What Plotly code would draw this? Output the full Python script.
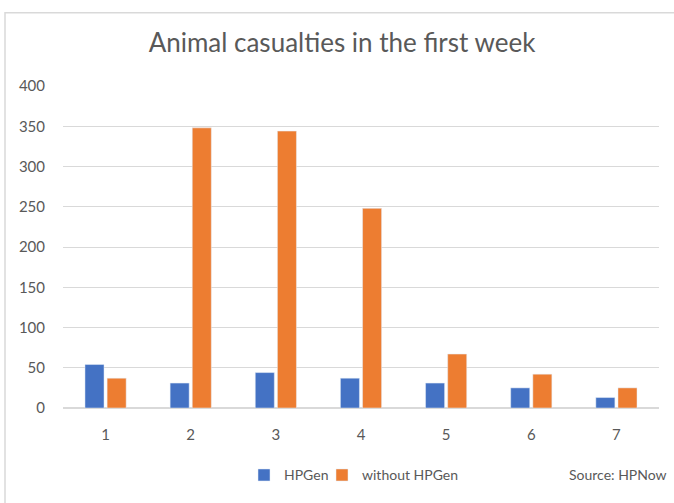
import plotly.graph_objects as go

days = ["1", "2", "3", "4", "5", "6", "7"]
hpgen = [54, 31, 44, 37, 31, 25, 13]
without_hpgen = [37, 348, 344, 248, 67, 42, 25]
y_ticks = [0, 50, 100, 150, 200, 250, 300, 350, 400]

W, H = 674, 503
L, R, T, B = 63, 15, 86, 92
pw = W - L - R
ph = H - T - B

def px_x(x):
    return (x - L) / pw

def px_y(y):
    return (H - B - y) / ph

FONT = "Lato"
GRAY = "#595959"

fig = go.Figure()
fig.add_trace(go.Bar(x=days, y=hpgen, name="HPGen", marker_color="#4472C4", legend="legend"))
fig.add_trace(go.Bar(x=days, y=without_hpgen, name="without HPGen", marker_color="#ED7D31",
                     legend="legend2"))

leg_common = dict(orientation="h", yanchor="middle", xanchor="left", itemwidth=30,
                  font=dict(family=FONT, size=14, color=GRAY), bgcolor="rgba(0,0,0,0)")

fig.update_layout(
    width=W, height=H,
    margin=dict(l=L, r=R, t=T, b=B),
    paper_bgcolor="white", plot_bgcolor="white",
    barmode="group", bargap=0.48, bargroupgap=0.14,
    font=dict(family=FONT, color=GRAY, size=15),
    title=dict(text="Animal casualties in the first week", x=px_x(342), xref="paper",
               xanchor="center", y=1 - 43 / H, yanchor="middle",
               font=dict(family=FONT, size=26, color=GRAY)),
    showlegend=True,
    legend=dict(x=px_x(244), y=px_y(479), **leg_common),
    legend2=dict(x=px_x(322), y=px_y(479), **leg_common),
    xaxis=dict(showgrid=False, showline=True, linecolor="#d9d9d9", linewidth=1,
               ticks="", tickfont=dict(size=15, color=GRAY), ticklabelstandoff=13),
    yaxis=dict(range=[0, 400], tickvals=y_ticks, showgrid=True, gridcolor="#d9d9d9",
               gridwidth=1, zeroline=True, zerolinecolor="#d9d9d9", showline=False,
               ticks="", tickfont=dict(size=15, color=GRAY), ticklabelstandoff=17),
    annotations=[dict(text="Source: HPNow", x=px_x(669), y=px_y(478), xref="paper", yref="paper",
                      xanchor="right", yanchor="middle", showarrow=False,
                      font=dict(family=FONT, size=14, color=GRAY))],
    shapes=[dict(type="rect", xref="paper", yref="paper",
                 x0=px_x(5), x1=px_x(700), y0=px_y(540), y1=px_y(12),
                 line=dict(color="#d9d9d9", width=1.5), layer="below")],
)

fig.write_html("out.html", config={"displayModeBar": False},
               post_script="document.body.style.margin='0';document.body.style.overflow='hidden';")
